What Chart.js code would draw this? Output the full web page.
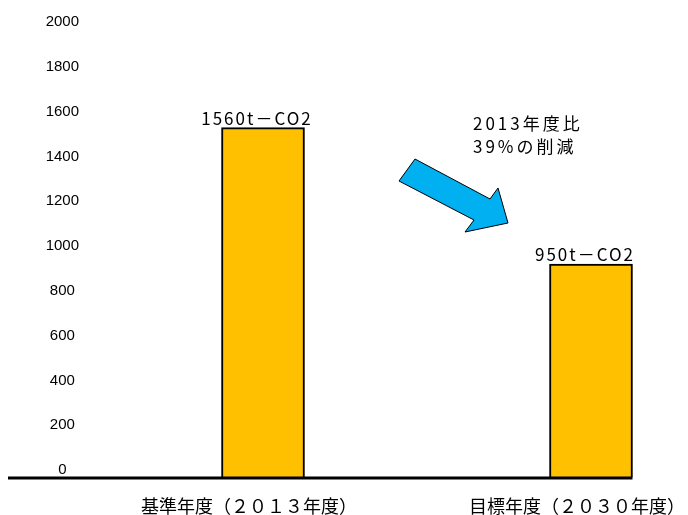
<!DOCTYPE html>
<html lang="ja">
<head>
<meta charset="utf-8">
<script src="https://cdn.jsdelivr.net/npm/chart.js@4.4.0/dist/chart.umd.min.js"></script>
<style>
  html, body { margin: 0; padding: 0; background: #fff; }
  #wrap { position: relative; width: 688px; height: 515px; }
</style>
</head>
<body>
<div id="wrap"><canvas id="chart"></canvas></div>
<script>
// 年度別のCO2排出量
const categories = ['基準年度（２０１３年度）', '目標年度（２０３０年度）'];
const emissions = [1560, 950];
const valueLabels = ['1560t－CO2', '950t－CO2'];
const yTicks = [0, 200, 400, 600, 800, 1000, 1200, 1400, 1600, 1800, 2000];
const noteLines = ['2013年度比', '39%の削減'];

const jpFont = '"Noto Sans CJK JP", "Noto Sans", sans-serif';

// baseline, value labels, arrow and note
const decorations = {
    id: 'decorations',
    afterDatasetsDraw(chart) {
        const ctx = chart.ctx;
        const meta = chart.getDatasetMeta(0);
        const y0 = chart.scales.y.getPixelForValue(0);
        const last = meta.data[meta.data.length - 1];

        ctx.save();
        // thick x axis line
        ctx.strokeStyle = '#000';
        ctx.lineWidth = 3;
        ctx.beginPath();
        ctx.moveTo(8, y0 + 1);
        ctx.lineTo(last.x + last.width / 2, y0 + 1);
        ctx.stroke();

        // labels above the bars
        ctx.fillStyle = '#000';
        ctx.font = '17px ' + jpFont;
        ctx.letterSpacing = '2px';
        ctx.textAlign = 'center';
        ctx.textBaseline = 'alphabetic';
        meta.data.forEach((bar, i) => {
            ctx.fillText(valueLabels[i], bar.x - 6, bar.y - 3);
        });

        // reduction arrow
        const arrow = [[415, 159], [490, 199], [498, 188], [508, 223], [465, 232], [474, 220], [399, 181]];
        ctx.beginPath();
        arrow.forEach((p, i) => i ? ctx.lineTo(p[0], p[1]) : ctx.moveTo(p[0], p[1]));
        ctx.closePath();
        ctx.fillStyle = '#00B0F0';
        ctx.fill();
        ctx.lineWidth = 1;
        ctx.strokeStyle = '#000';
        ctx.stroke();

        // note text
        ctx.fillStyle = '#000';
        ctx.font = '17px ' + jpFont;
        ctx.letterSpacing = '3px';
        ctx.textAlign = 'left';
        ctx.textBaseline = 'middle';
        noteLines.forEach((t, i) => ctx.fillText(t, 473, 124 + i * 23));
        ctx.restore();
    }
};

const ctx = document.getElementById('chart').getContext('2d');
const chart = new Chart(ctx, {
    type: 'bar',
    data: {
        datasets: [{
            data: emissions.map((v, i) => ({ x: i, y: v })),
            backgroundColor: '#FFC000',
            borderColor: '#000',
            borderWidth: 2,
            barThickness: 83
        }]
    },
    options: {
        responsive: true,
        maintainAspectRatio: false,
        animation: false,
        layout: { padding: { top: 25, right: 15, left: 0, bottom: 0 } },
        plugins: {
            legend: { display: false },
            tooltip: { enabled: false }
        },
        scales: {
            x: {
                type: 'linear',
                offset: false,
                min: -0.5,
                max: 1.25,
                grid: { display: false, drawTicks: false },
                border: { display: false },
                afterBuildTicks: s => { s.ticks = categories.map((c, i) => ({ value: i })); },
                afterFit: s => {
                    s.height = 38;
                    s.paddingLeft = 0;
                    s.paddingRight = 0;
                },
                ticks: {
                    autoSkip: false,
                    maxRotation: 0,
                    padding: 18,
                    labelOffset: -14,
                    color: '#000',
                    font: { family: jpFont, size: 18 },
                    callback: v => categories[v] ?? ''
                }
            },
            y: {
                min: 0,
                max: 2000,
                grid: { display: false, drawTicks: false },
                border: { display: false },
                afterBuildTicks: s => { s.ticks = yTicks.map(v => ({ value: v })); },
                afterFit: s => { s.width = 99; },
                ticks: {
                    padding: 20,
                    crossAlign: 'center',
                    labelOffset: -7,
                    color: '#000',
                    font: { family: '"Liberation Sans", Arial, sans-serif', size: 15 },
                    callback: v => String(v)
                }
            }
        }
    },
    plugins: [decorations]
});
</script>
</body>
</html>
